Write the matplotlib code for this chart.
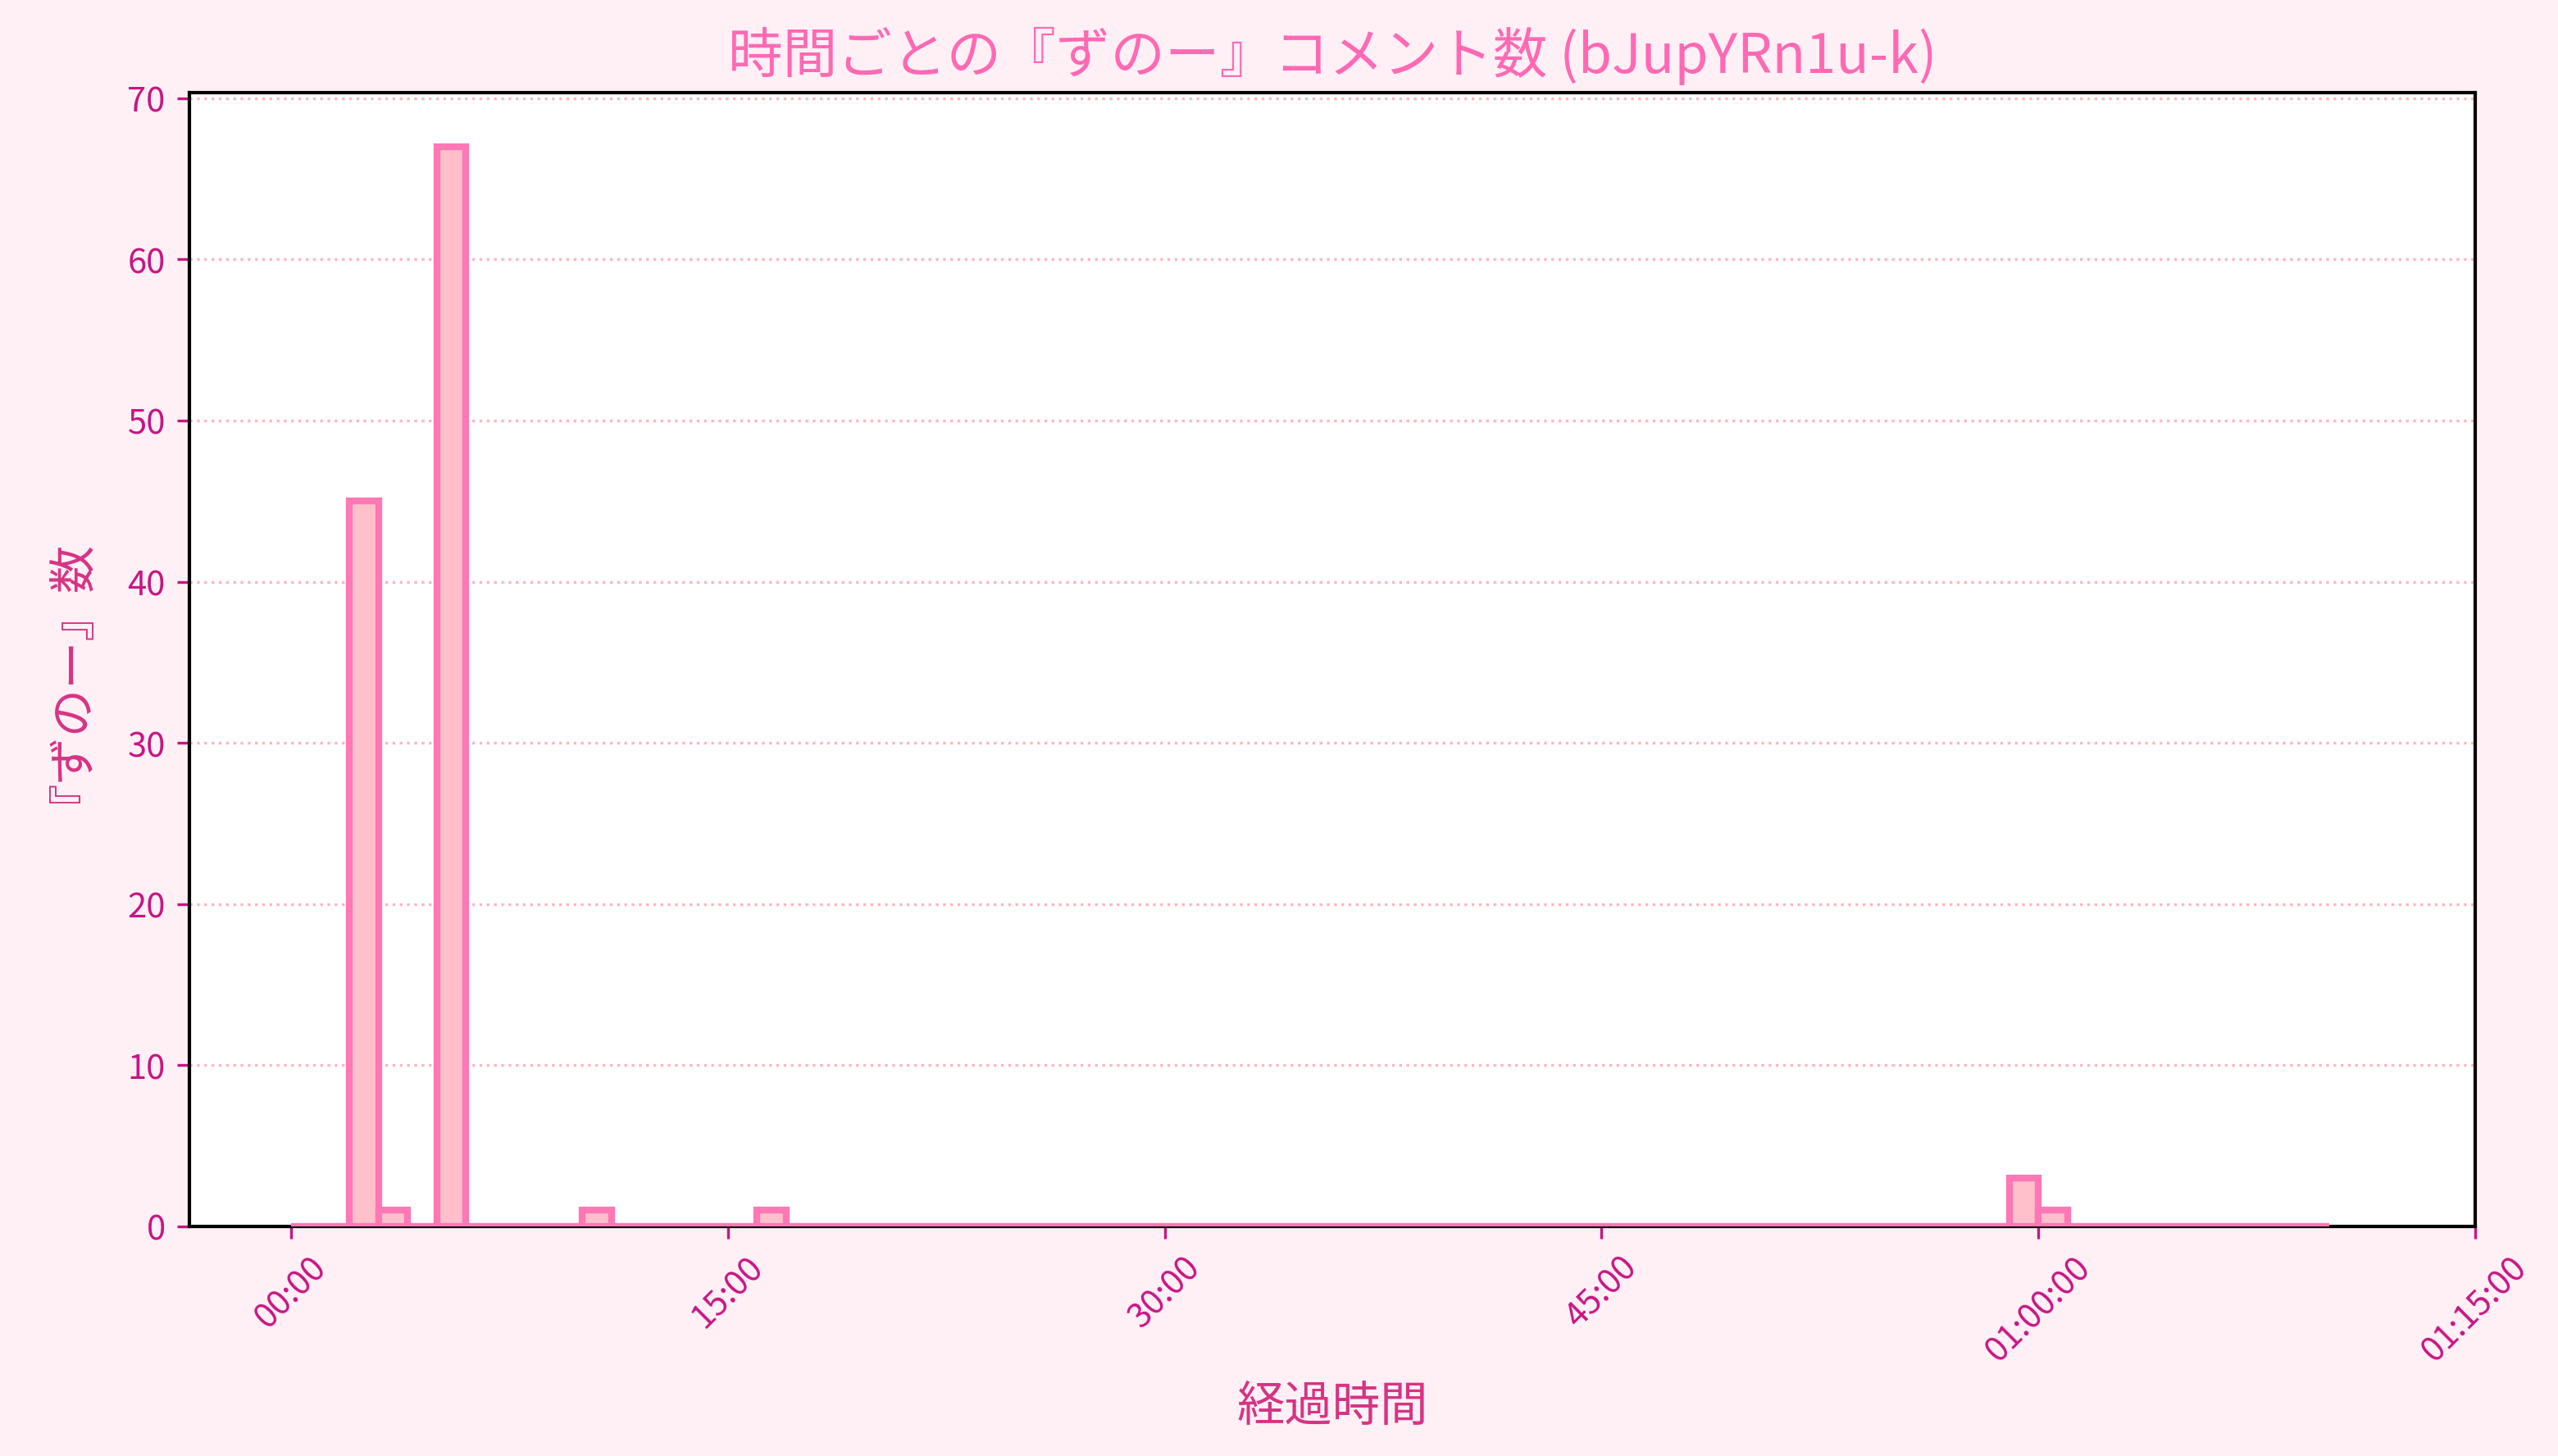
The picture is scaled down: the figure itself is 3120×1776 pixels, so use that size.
import numpy as np
import matplotlib
matplotlib.use("Agg")
import matplotlib.pyplot as plt
from matplotlib.ticker import MultipleLocator

plt.rcParams['font.family'] = ['Noto Sans CJK JP', 'DejaVu Sans']

# ---- data ----
n_bins = 70                      # one-minute bins from 00:00 to 01:10:00
bin_minutes = [2, 3, 5, 10, 16, 59, 60]
bin_counts = [45, 1, 67, 1, 1, 3, 1]
tick_labels = ["00:00", "15:00", "30:00", "45:00", "01:00:00", "01:15:00"]
title = "時間ごとの『ずのー』コメント数 (bJupYRn1u-k)"
xlabel = "経過時間"
ylabel = "『ずのー』数"

counts = np.zeros(n_bins)
for m, c in zip(bin_minutes, bin_counts):
    counts[m] = c
edges = np.arange(n_bins + 1) * 60  # seconds

fig = plt.figure(figsize=(10.4, 5.9233), dpi=300, facecolor="#fff0f5")
ax = fig.add_axes([0.074, 0.1578, 0.8936, 0.7780])
ax.set_facecolor("white")

ax.bar(edges[:-1], counts, width=60, align="edge", color="#ffc0cb",
       edgecolor="#ff77b5", linewidth=2.0, zorder=3)

ax.set_xlim(-3.5 * 60, 75 * 60)
ax.set_ylim(0, 70.35)
ax.yaxis.set_major_locator(MultipleLocator(10))

tick_pos = np.arange(len(tick_labels)) * 15 * 60
ax.set_xticks(tick_pos)
ax.set_xticklabels(tick_labels, rotation=45)

ax.grid(axis="y", linestyle=":", color="#ffb6c1", linewidth=0.8, zorder=0)
ax.set_axisbelow(True)

ax.tick_params(colors="#c71585", labelsize=10)
for s in ax.spines.values():
    s.set_color("black")
    s.set_linewidth(1.0)

ax.set_title(title, color="#ff69b4", fontsize=16, pad=6)
ax.set_xlabel(xlabel, color="#d63384", fontsize=14, labelpad=4)
ax.set_ylabel(ylabel, color="#d63384", fontsize=14, labelpad=16)

fig.savefig("out.png", dpi=300, facecolor=fig.get_facecolor())
